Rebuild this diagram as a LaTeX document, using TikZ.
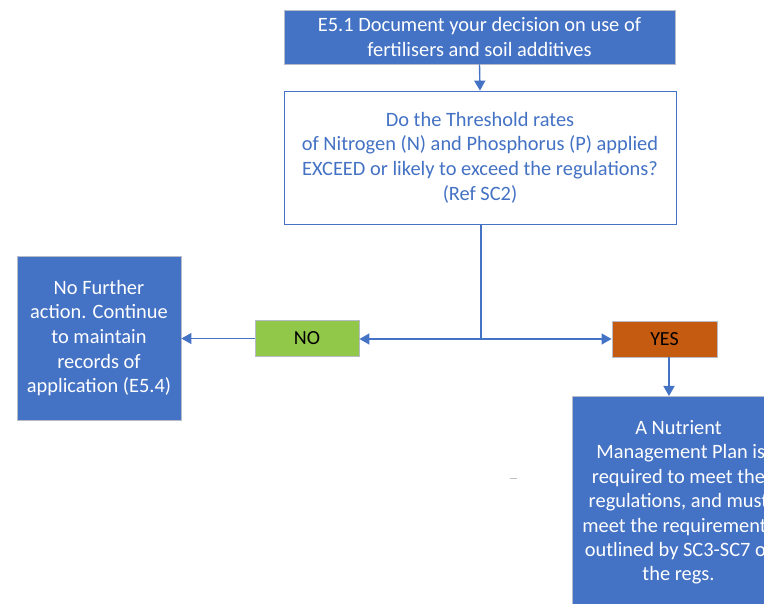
\documentclass[tikz,border=0pt]{standalone}
\usepackage{fontspec}
\setmainfont{Carlito}
\usetikzlibrary{arrows.meta}
\definecolor{mblue}{HTML}{4472C4}
\definecolor{mgreen}{HTML}{92C84A}
\definecolor{morange}{HTML}{C55A11}
\definecolor{mgray}{HTML}{B8BCC8}
\begin{document}
\begin{tikzpicture}[x=1pt,y=-1pt,
  box/.style={rectangle, draw=mgray, line width=0.8pt, inner sep=2pt, align=center,
    font=\fontsize{20.4}{24.6}\selectfont},
  bluebox/.style={box, fill=mblue, text=white},
  qbox/.style={box, fill=white, draw=mblue, text=mblue},
  tag/.style={box, text=black, font=\fontsize{20}{22}\selectfont},
  conn/.style={draw=mblue, line width=1.4pt, -{Triangle[length=10pt,width=11pt]}},
  line/.style={draw=mblue, line width=1.4pt}]
\useasboundingbox (0,0) rectangle (764,604);
\clip (0,0) rectangle (764,604);
\node[bluebox, minimum width=391pt, minimum height=54pt] (top) at (479.5,37)
  {E5.1 Document your decision on use of\\fertilisers and soil additives};
\node[qbox, minimum width=392pt, minimum height=133pt] (q) at (480,157.5)
  {Do the Threshold rates\\of Nitrogen (N) and Phosphorus (P) applied\\EXCEED or likely to exceed the regulations?\\(Ref SC2)};
\node[bluebox, minimum width=164pt, minimum height=164pt] (left) at (99,338)
  {No Further\\action. Continue\\to maintain\\records of\\application (E5.4)};
\node[tag, fill=mgreen, minimum width=104pt, minimum height=36pt] (no) at (307,338.5) {NO};
\node[tag, fill=morange, minimum width=105pt, minimum height=36pt] (yes) at (664.5,339) {YES};
\node[bluebox, minimum width=213pt, minimum height=250pt, anchor=north] (right) at (678.5,396) {};
\node[text=white, align=center, font=\fontsize{20.4}{24.4}\selectfont, anchor=north] (rtext) at (678.5,417)
  {A Nutrient\\\ Management Plan is\\required to meet the\\regulations, and must\\meet the requirements\\outlined by SC3-SC7 of\\the regs.};
\coordinate (j) at (481,339);
\draw[conn] (top.south) -- (q.north);
\draw[line] (q.south -| j) -- (j);
\draw[conn] (j) -- (no.east |- j);
\draw[conn] (j) -- (yes.west |- j);
\draw[conn] (no.west) -- (left.east |- no.west);
\draw[conn] (yes.south -| 669,0) -- (right.north -| 669,0);
\coordinate (d1) at (510,478);
\coordinate (d2) at (517,478);
\draw[gray!50, line width=0.6pt] (d1) -- (d2);
\end{tikzpicture}
\end{document}
